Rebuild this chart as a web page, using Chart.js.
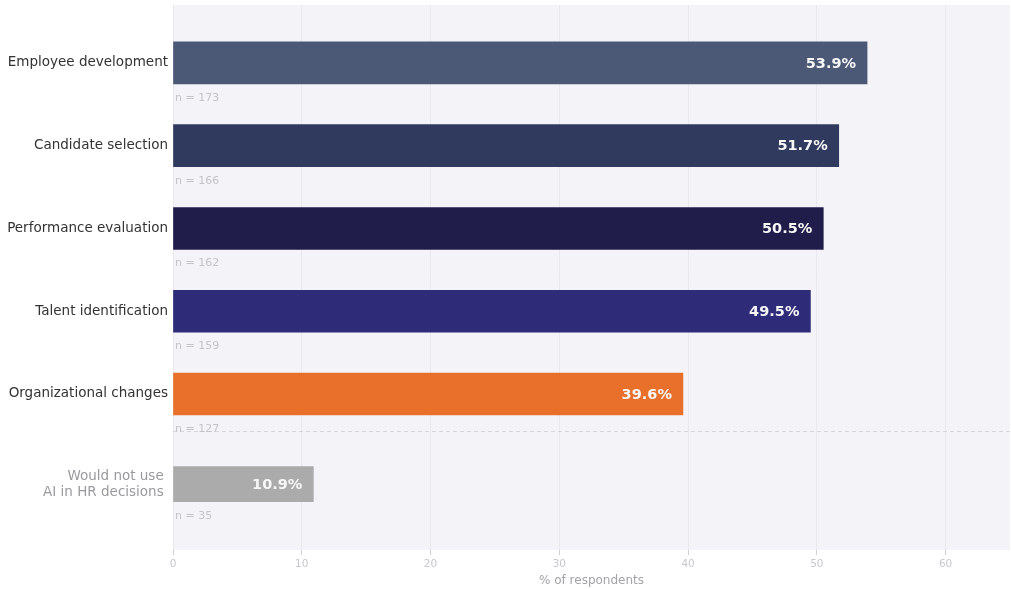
<!DOCTYPE html>
<html>
<head>
<meta charset="utf-8">
<title>AI in HR decisions</title>
<script src="https://cdn.jsdelivr.net/npm/chart.js@4.4.1/dist/chart.umd.min.js"></script>
<style>
  body { margin: 0; background: #fff; }
  canvas { display: block; }
</style>
</head>
<body>
<canvas id="myChart" width="1011" height="589"></canvas>
<script>
// chart data
const categories = [
  "Employee development",
  "Candidate selection",
  "Performance evaluation",
  "Talent identification",
  "Organizational changes",
  ["Would not use ", "AI in HR decisions "],
];
const shares = [53.9, 51.7, 50.5, 49.5, 39.6, 10.9];
const respondents = [173, 166, 162, 159, 127, 35];
const xTicks = [0, 10, 20, 30, 40, 50, 60];

const barColors = ["#4b5876", "#2f3a5e", "#201d4a", "#2e2b79", "#e8702a", "#ababab"];

// the last row sits below a dashed separator, pushed down a little
const splitAt = 5;
const slotOf = (i) => (i < splitAt ? i : i + 0.09);
const separatorAt = 4.45;

const points = shares.map((v, i) => ({ x: v, y: slotOf(i) }));

Chart.defaults.font.family = "'DejaVu Sans', sans-serif";

// light plot background
const plotBackground = {
  id: "plotBackground",
  beforeDraw(chart) {
    const { ctx, chartArea: a } = chart;
    ctx.save();
    ctx.fillStyle = "#f4f4f8";
    ctx.fillRect(a.left, a.top, a.right - a.left, a.bottom - a.top);
    ctx.restore();
  },
};

// dashed line between the answers and "would not use"
const separator = {
  id: "separator",
  beforeDatasetsDraw(chart) {
    const { ctx, chartArea: a, scales } = chart;
    const y = Math.round(scales.y.getPixelForValue(separatorAt)) + 0.5;
    ctx.save();
    ctx.strokeStyle = "#d6d6dc";
    ctx.lineWidth = 1;
    ctx.setLineDash([4, 3]);
    ctx.beginPath();
    ctx.moveTo(a.left, y);
    ctx.lineTo(a.right, y);
    ctx.stroke();
    ctx.restore();
  },
};

// value inside each bar and n below it
const barLabels = {
  id: "barLabels",
  afterDatasetsDraw(chart) {
    const { ctx, chartArea: a } = chart;
    ctx.save();
    chart.data.datasets.forEach((ds, d) => {
      const offset = d === 0 ? 0 : splitAt;
      chart.getDatasetMeta(d).data.forEach((bar, j) => {
        const i = offset + j;
        ctx.textBaseline = "middle";
        ctx.textAlign = "right";
        ctx.fillStyle = "#f7f7f7";
        ctx.font = "bold 14.5px 'DejaVu Sans', sans-serif";
        ctx.fillText(shares[i].toFixed(1) + "%", bar.x - 11, bar.y + 1);

        ctx.textAlign = "left";
        ctx.fillStyle = "#c4c4c8";
        ctx.font = "11px 'DejaVu Sans', sans-serif";
        ctx.fillText("n = " + respondents[i], a.left + 2, bar.y + bar.height / 2 + 14);
      });
    });
    ctx.restore();
  },
};

const ctx = document.getElementById("myChart").getContext("2d");

const myChart = new Chart(ctx, {
  type: "bar",
  data: {
    datasets: [
      {
        data: points.slice(0, splitAt),
        backgroundColor: barColors.slice(0, splitAt),
        barThickness: 42,
        grouped: false,
      },
      {
        data: points.slice(splitAt),
        backgroundColor: barColors.slice(splitAt),
        barThickness: 35,
        grouped: false,
      },
    ],
  },
  options: {
    indexAxis: "y",
    responsive: false,
    animation: false,
    layout: { padding: { top: 5, right: 1, bottom: 0, left: 0 } },
    plugins: {
      legend: { display: false },
      tooltip: { enabled: false },
    },
    scales: {
      x: {
        type: "linear",
        min: 0,
        max: 65,
        afterBuildTicks: (s) => {
          s.ticks = xTicks.map((v) => ({ value: v }));
        },
        afterFit: (s) => {
          s.height = 39;
        },
        grid: { color: "#e8e8ee", tickColor: "#cfcfd4", tickLength: 5 },
        border: { display: false },
        ticks: { color: "#c8c8cc", font: { size: 10.5 }, padding: 3 },
        title: {
          display: true,
          text: "% of respondents",
          color: "#a3a3a8",
          font: { size: 12 },
          padding: { top: 2, bottom: 1 },
        },
      },
      y: {
        type: "linear",
        reverse: true,
        offset: false,
        min: -0.7,
        max: 5.885,
        afterBuildTicks: (s) => {
          s.ticks = categories.map((c, i) => ({ value: slotOf(i) }));
        },
        afterFit: (s) => {
          s.width = 173;
          s.paddingTop = 0;
          s.paddingBottom = 0;
        },
        grid: { display: false, drawTicks: false, offset: false },
        border: { display: false },
        ticks: {
          autoSkip: false,
          padding: 5,
          font: { size: 13.5 },
          color: (c) => (c.index === categories.length - 1 ? "#9a9a9e" : "#333333"),
          callback: (v, i) => categories[i],
        },
      },
    },
  },
  plugins: [plotBackground, separator, barLabels],
});
</script>
</body>
</html>
